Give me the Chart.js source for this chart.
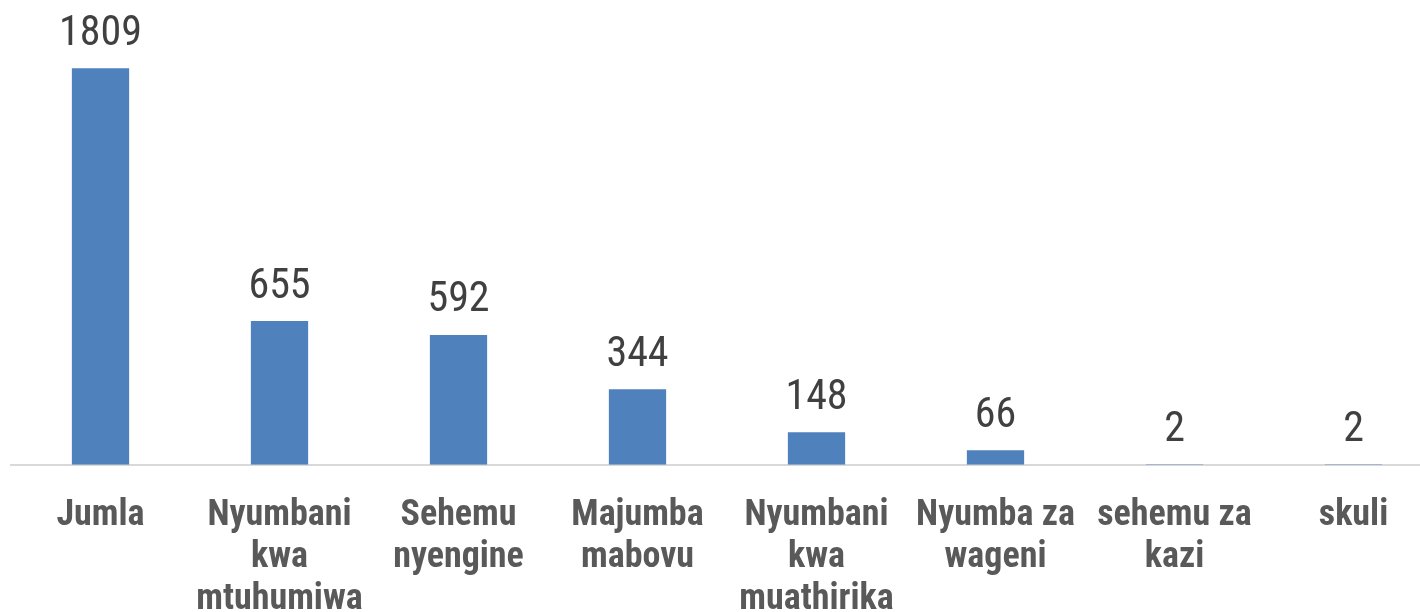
<!DOCTYPE html>
<html lang="sw">
<head>
  <meta charset="UTF-8" />
  <title>Matukio kwa mahali</title>
  <script src="https://cdn.jsdelivr.net/npm/chart.js"></script>
  <style>
    html, body {
      margin: 0;
      padding: 0;
      background: #ffffff;
      overflow: hidden;
    }
    #chart-container {
      width: 1443px;
      height: 612px;
    }
  </style>
</head>
<body>

  <div id="chart-container">
    <canvas id="placeChart"></canvas>
  </div>

  <script>
    const categories = [
      'Jumla',
      ['Nyumbani', 'kwa', 'mtuhumiwa'],
      ['Sehemu', 'nyengine'],
      ['Majumba', 'mabovu'],
      ['Nyumbani', 'kwa', 'muathirika'],
      ['Nyumba za', 'wageni'],
      ['sehemu za', 'kazi'],
      'skuli'
    ];
    const counts = [1809, 655, 592, 344, 148, 66, 2, 2];

    const narrow = "'Liberation Sans Narrow', 'Arial Narrow', 'Roboto Condensed', sans-serif";

    // draws the value above each bar
    const valueLabels = {
      id: 'valueLabels',
      afterDatasetsDraw(chart) {
        const ctx = chart.ctx;
        const meta = chart.getDatasetMeta(0);
        ctx.save();
        ctx.font = '42px ' + narrow;
        ctx.fillStyle = '#404040';
        ctx.textAlign = 'center';
        ctx.textBaseline = 'bottom';
        meta.data.forEach((bar, i) => {
          ctx.fillText(String(counts[i]), bar.x, bar.y - 13);
        });
        ctx.restore();
      }
    };

    const ctx = document.getElementById('placeChart').getContext('2d');
    new Chart(ctx, {
      type: 'bar',
      data: {
        labels: categories,
        datasets: [{
          data: counts,
          backgroundColor: '#4F81BD',
          barPercentage: 0.64,
          categoryPercentage: 0.5
        }]
      },
      options: {
        responsive: true,
        maintainAspectRatio: false,
        animation: false,
        layout: {
          padding: { left: 11, right: 0, top: 0, bottom: -31 }
        },
        plugins: {
          legend: { display: false },
          tooltip: { enabled: false }
        },
        scales: {
          x: {
            grid: { display: false },
            border: { display: true, color: '#D9D9D9', width: 2 },
            ticks: {
              color: '#595959',
              font: { family: narrow, size: 36, weight: 'bold', lineHeight: 1.17 },
              padding: 22,
              maxRotation: 0,
              autoSkip: false
            }
          },
          y: {
            display: false,
            min: 0,
            max: 2120
          }
        }
      },
      plugins: [valueLabels]
    });
  </script>

</body>
</html>
